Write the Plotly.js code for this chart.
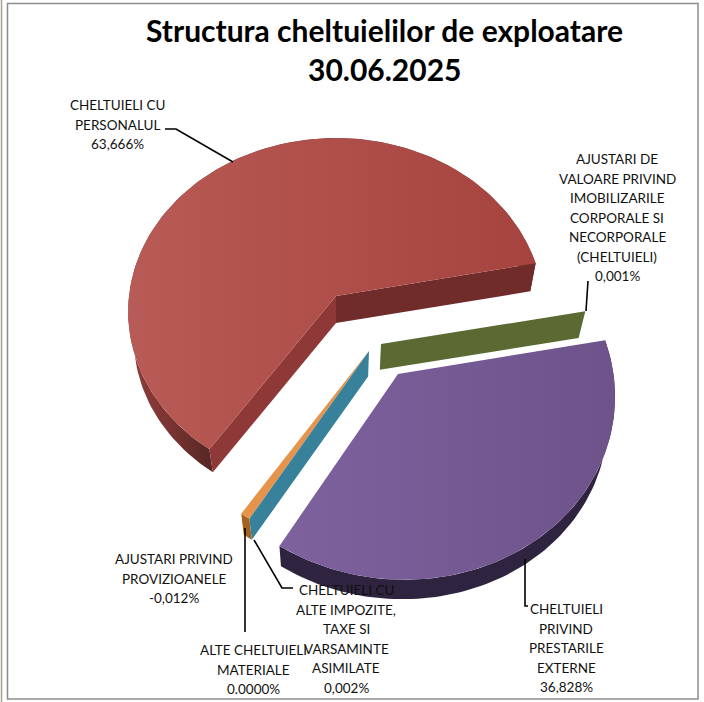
<!DOCTYPE html>
<html><head><meta charset="utf-8">
<script src="https://cdn.plot.ly/plotly-3.0.1.min.js"></script>
<style>html,body{margin:0;padding:0;background:#fff}#c{width:704px;height:702px}</style></head>
<body><div id="c"></div>
<script>
// ---- chart data ----
const chartTitle = ['Structura cheltuielilor de exploatare', '30.06.2025'];
const categories = ['AJUSTARI DE VALOARE PRIVIND IMOBILIZARILE CORPORALE SI NECORPORALE (CHELTUIELI)',
  'CHELTUIELI PRIVIND PRESTARILE EXTERNE',
  'CHELTUIELI CU ALTE IMPOZITE, TAXE SI VARSAMINTE ASIMILATE',
  'AJUSTARI PRIVIND PROVIZIOANELE',
  'ALTE CHELTUIELI MATERIALE',
  'CHELTUIELI CU PERSONALUL'];
const values = [0.001, 36.828, 0.002, -0.012, 0.0, 63.666];
const valueLabels = ['0,001%', '36,828%', '0,002%', '-0,012%', '0.0000%', '63,666%'];
const labelLines = [
  ['AJUSTARI DE', 'VALOARE PRIVIND', 'IMOBILIZARILE', 'CORPORALE SI', 'NECORPORALE', '(CHELTUIELI)'],
  ['CHELTUIELI', 'PRIVIND', 'PRESTARILE', 'EXTERNE'],
  ['CHELTUIELI CU', 'ALTE IMPOZITE,', 'TAXE SI', 'VARSAMINTE', 'ASIMILATE'],
  ['AJUSTARI PRIVIND', 'PROVIZIOANELE'],
  ['ALTE CHELTUIELI', 'MATERIALE'],
  ['CHELTUIELI CU', 'PERSONALUL']
];

// ---- drawing configuration: tilted, exploded pie projected on to pixel axes ----
const cam = {cx:336, cy:296, R:207, Rs:172.2, k:0.09, vx:336, vy:1300, s:0.027};
const firstAngle = -10.6;
const redRim = [[0,'#8f3e3b'],[0.1,'#7b3431'],[0.19,'#5a2927'],[0.21,'#5a2927'],[0.3,'#6e2c2a'],[1,'#6e2c2a']];
const geom = [
 {apex:[381,344], scale:1, min:0, rim:'#5a6a32', wallEnd:'#5a6a32', wallStart:null, top:['#5a6a32','#5a6a32']},
 {apex:[398,374], scale:1.005, min:0, rim:'#2f2440', wallEnd:null, wallStart:null, top:['#7d629e','#6e528a']},
 {apex:[369,351], scale:1, min:0, rim:'#37819a', wallEnd:'#37819a', wallStart:null, top:['#37819a','#37819a']},
 {apex:[369,351], scale:1, min:2.5, rim:'#a5621f', wallEnd:null, wallStart:null, top:['#e6934b','#e6934b']},
 {apex:[369,351], scale:1, min:0, rim:'#a5621f', wallEnd:null, wallStart:null, top:['#e6934b','#e6934b']},
 {apex:[336,296], scale:0.984, min:0, rim:'#6e2c2a', rimGrad:redRim, wallStart:'#8e3937', wallEnd:'#6f2c2a', top:['#b85a55','#a6433f']}
];
const drawOrder = [5,0,1,3,2];
const leaders = [
 {x:[586,588], y:[311,281]},
 {x:[525,525,528], y:[559,606,606]},
 {x:[254,282,293], y:[540,588,588]},
 {x:[245,245], y:[528,632]},
 {x:[165,176,233], y:[129,129,162]}
];
const labelPos = [
 {x:617, y:159}, {x:566, y:609}, {x:346, y:590}, {x:174, y:559}, {x:253, y:650}, {x:117, y:105}
];
const lineStep = 19.5;

function project(X,Y){const w=1-cam.k*Y;return [cam.cx+cam.R*X/w, cam.cy+cam.Rs*Y/w];}
function unproject(p){const t=(p[1]-cam.cy)/cam.Rs;const Y=t/(1+cam.k*t);const w=1-cam.k*Y;return [(p[0]-cam.cx)*w/cam.R,Y];}
function lower(p){return [p[0]+cam.s*(cam.vx-p[0]), p[1]+cam.s*(cam.vy-p[1])];}
function poly(points,color,grad){
  const t={type:'scatter',mode:'lines',x:points.map(p=>p[0]),y:points.map(p=>p[1]),fill:'toself',
    fillcolor:color,line:{width:0,color:color},hoverinfo:'skip',showlegend:false};
  if(grad){t.fillgradient={type:'horizontal',colorscale:grad};}
  return t;
}
const total = values.reduce((a,v)=>a+Math.abs(v),0);
let ang = firstAngle;
const wedges = values.map((v,i)=>{
  const g=geom[i];
  const sweep=Math.max(g.min,Math.abs(v)/total*360*g.scale);
  const a0=ang,a1=ang+sweep; ang=a1;
  const o=unproject(g.apex);
  const arc=[];const n=Math.max(2,Math.ceil(sweep/1.5));
  for(let j=0;j<=n;j++){const a=(a0+(a1-a0)*j/n)*Math.PI/180;
    arc.push(project(o[0]+Math.cos(a),o[1]+Math.sin(a)));}
  return {g,arc,apex:g.apex};
});
const traces=[];
drawOrder.forEach(i=>{
  const w=wedges[i],g=w.g,arc=w.arc,low=arc.map(lower),al=lower(w.apex);
  const first=arc[0],last=arc[arc.length-1],n=arc.length-1;
  traces.push(poly(arc.concat(low.slice().reverse()),g.rim,g.rimGrad));
  if(g.wallStart)traces.push(poly([w.apex,first,low[0],al],g.wallStart));
  if(g.wallEnd)traces.push(poly(i===5?[w.apex,last,low[n],al]:[w.apex,first,low[0],al],g.wallEnd));
  traces.push(poly([w.apex].concat(arc),g.top[0],[[0,g.top[0]],[1,g.top[1]]]));
});
leaders.forEach(l=>traces.push({type:'scatter',mode:'lines',x:l.x,y:l.y,line:{color:'#000',width:1.6},hoverinfo:'skip',showlegend:false}));

const labelFont={family:'Lato, Carlito, sans-serif',size:13.5,color:'#111'};
function text(x,y,s,font){return {x,y,xref:'x',yref:'y',text:s,showarrow:false,font,xanchor:'center',yanchor:'middle',align:'center'};}
const annotations=[
  text(384.5,30,chartTitle[0],{family:'Lato, Carlito, sans-serif',size:30,color:'#000',weight:700}),
  text(384.5,69,chartTitle[1],{family:'Lato, Carlito, sans-serif',size:30,color:'#000',weight:700})
];
labelLines.forEach((lines,i)=>{
  lines.concat([valueLabels[i]]).forEach((s,j)=>annotations.push(text(labelPos[i].x,labelPos[i].y+j*lineStep,s,labelFont)));
});
const layout={
  width:704,height:702,margin:{l:0,r:0,t:0,b:0},paper_bgcolor:'#fff',plot_bgcolor:'#fff',showlegend:false,
  xaxis:{range:[0,704],visible:false,fixedrange:true},
  yaxis:{range:[702,0],visible:false,fixedrange:true},
  annotations,
  shapes:[
   {type:'rect',xref:'x',yref:'y',x0:7.5,y0:3.5,x1:698,y1:699,line:{color:'#8c8c8c',width:1.5},fillcolor:'rgba(0,0,0,0)',layer:'below'},
   {type:'line',xref:'x',yref:'y',x0:1.5,y0:0,x1:1.5,y1:702,line:{color:'#a9a290',width:1.5},layer:'below'}
  ]
};
Plotly.newPlot('c',traces,layout,{displayModeBar:false,staticPlot:true});
</script></body></html>
